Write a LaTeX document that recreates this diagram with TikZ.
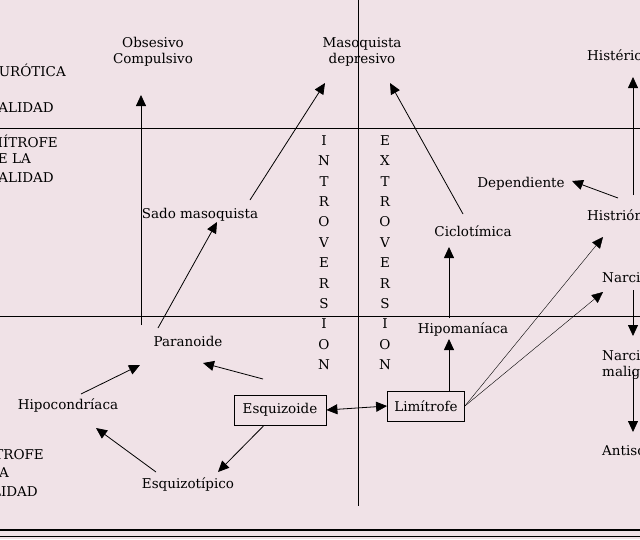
\documentclass[tikz,border=0pt]{standalone}
\usepackage{fontspec}
\setmainfont{DejaVu Serif}
\usetikzlibrary{arrows.meta}
\definecolor{bg}{RGB}{240,226,231}
\begin{document}
\begin{tikzpicture}[x=1pt,y=-1pt,font=\fontsize{13.5}{16}\selectfont,
  ar/.style={-{Triangle[length=11pt,width=10pt]},thick},
  lbl/.style={inner sep=1pt,align=center},
  box/.style={draw,thick,minimum height=30pt,inner sep=2pt}]
\useasboundingbox (0,0) rectangle (640,539);
\fill[bg] (0,0) rectangle (640,539);
\clip (0,0) rectangle (640,539);
\draw[thick] (0,128) -- (640,128);
\draw[thick] (0,316) -- (640,316);
\draw[thick] (358,0) -- (358,506);
\draw[very thick] (0,530) -- (640,530);
\draw[thick] (0,536) -- (640,536);
% side labels
\node[anchor=east,inner sep=0] at (66,70) {NEURÓTICA};
\node[anchor=east,inner sep=0] at (54,108) {REALIDAD};
\node[anchor=east,inner sep=0] at (58,141) {LIMÍTROFE};
\node[anchor=east,inner sep=0] at (31,159) {DE LA};
\node[anchor=east,inner sep=0] at (54,178) {REALIDAD};
\node[anchor=east,inner sep=0] at (44,453) {LIMÍTROFE};
\node[anchor=east,inner sep=0] at (9,473) {LA};
\node[anchor=east,inner sep=0] at (38,492) {REALIDAD};
% vertical words
\foreach \c [count=\i] in {I,N,T,R,O,V,E,R,S,I,O,N}
  \node[inner sep=0] at (324,{120+\i*20.4}) {\c};
\foreach \c [count=\i] in {E,X,T,R,O,V,E,R,S,I,O,N}
  \node[inner sep=0] at (385,{120+\i*20.4}) {\c};
% nodes
\node[lbl] (obs) at (153,52) {Obsesivo\\Compulsivo};
\node[lbl] (maso) at (362,52) {Masoquista\\depresivo};
\node[lbl,anchor=west] (hist) at (586,55) {Histérica};
\node[lbl,anchor=west] (histr) at (586,215) {Histriónica};
\node[lbl,anchor=west] (narc) at (601,278) {Narcisista};
\node[lbl,anchor=west,align=left] (narm) at (601,365) {Narcisista\\maligno};
\node[lbl,anchor=west] (anti) at (601,450) {Antisocial};
\node[lbl] (dep) at (521,184) {Dependiente};
\node[lbl] (cic) at (473,231) {Ciclotímica};
\node[lbl] (hipo) at (463,329) {Hipomaníaca};
\node[box,minimum width=77pt] (lim) at (426,406) {Limítrofe};
\node[box,minimum width=92pt] (esq) at (280,410) {Esquizoide};
\node[lbl] (par) at (188,341) {Paranoide};
\node[lbl] (sado) at (200,215) {Sado masoquista};
\node[lbl] (hcd) at (68,405) {Hipocondríaca};
\node[lbl] (esqt) at (188,484) {Esquizotípico};
% connectors
\coordinate (o1) at (141,325);
\draw[ar] (o1) -- (141,95);
\coordinate (s1) at (250,200);
\draw[ar] (s1) -- (325,83);
\coordinate (p1) at (158,328);
\draw[ar] (p1) -- (217,222);
\coordinate (c1) at (463,214);
\draw[ar] (c1) -- (390,83);
\coordinate (h1) at (449,318);
\draw[ar] (h1) -- (449,247);
\draw[ar] (lim.north -| 449,0) -- (449,339);
\coordinate (hr1) at (633,195);
\draw[ar] (hr1) -- (633,77);
\coordinate (hr2) at (618,198);
\draw[ar] (hr2) -- (572,181);
\coordinate (n1) at (633,290);
\draw[ar] (n1) -- (633,336);
\coordinate (n2) at (633,372);
\draw[ar] (n2) -- (633,432);
\draw[ar,thin] (lim.east) -- (603,237);
\draw[ar,thin] (lim.east) -- (603,292);
\draw[{Triangle[length=11pt,width=10pt]}-{Triangle[length=11pt,width=10pt]},thick] (esq.east) -- (lim.west);
\coordinate (e1) at (263,379);
\draw[ar] (e1) -- (203,363);
\draw[ar] (esq.south) ++(-16,0) coordinate (e2) (e2) -- (218,472);
\coordinate (t1) at (156,472);
\draw[ar] (t1) -- (96,428);
\coordinate (hc1) at (81,394);
\draw[ar] (hc1) -- (140,365);
\end{tikzpicture}
\end{document}
